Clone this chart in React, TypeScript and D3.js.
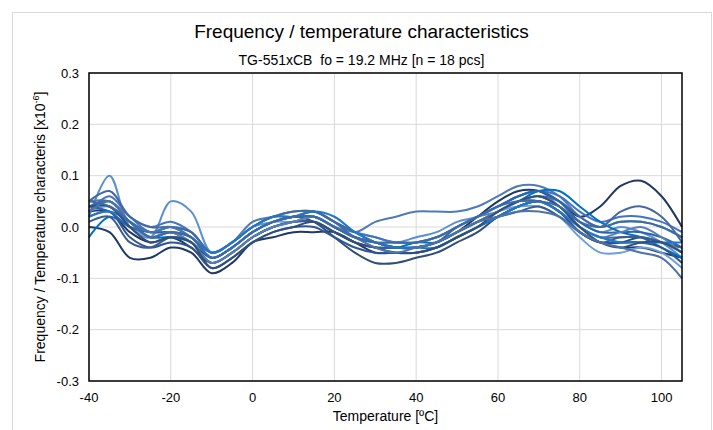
import * as d3 from 'd3';

const temps = d3.range(-40, 106, 5);
const yTicks = [-0.3, -0.2, -0.1, 0.0, 0.1, 0.2, 0.3];
const xTicks = [-40, -20, 0, 20, 40, 60, 80, 100];
const colors = ['#5b8fd0', '#1f3864', '#1f3864', '#2f4f7a', '#4f7bb5', '#4472c4', '#0070c0', '#3c6ea5', '#2e5597',
  '#6d9edb', '#44699e', '#3b5c8c', '#2c64b0', '#5a7fb0', '#1f77c7', '#34507a', '#4c72a8', '#3a6aa8'];

const series: number[][] = [
  [0.02,0.10,0.00,-0.02,0.05,0.03,-0.05,-0.03,0.00,0.01,0.02,0.02,0.00,-0.01,-0.02,-0.03,-0.02,-0.01,0.01,0.02,0.04,0.06,0.07,0.04,0.01,-0.01,0.00,-0.01,-0.03,-0.06],
  [0.03,0.03,-0.01,-0.03,-0.02,-0.04,-0.07,-0.05,-0.02,0.00,0.01,0.01,-0.01,-0.03,-0.04,-0.04,-0.04,-0.03,-0.01,0.02,0.05,0.07,0.07,0.05,0.02,0.04,0.08,0.09,0.06,0.00],
  [0.00,-0.01,-0.06,-0.06,-0.04,-0.05,-0.09,-0.07,-0.03,-0.02,-0.01,-0.01,-0.01,-0.03,-0.05,-0.05,-0.05,-0.04,-0.02,0.00,0.02,0.04,0.05,0.03,-0.01,-0.03,-0.04,-0.04,-0.05,-0.06],
  [0.04,0.04,0.01,-0.02,-0.01,-0.03,-0.06,-0.04,-0.01,0.01,0.02,0.01,-0.02,-0.05,-0.07,-0.07,-0.06,-0.05,-0.03,-0.01,0.02,0.04,0.05,0.03,-0.01,-0.03,-0.03,-0.02,-0.03,-0.04],
  [0.05,0.05,0.02,-0.01,0.00,-0.01,-0.05,-0.03,0.01,0.02,0.03,0.03,0.01,-0.01,0.01,0.02,0.03,0.03,0.03,0.04,0.06,0.08,0.08,0.06,0.02,0.00,0.01,0.01,0.00,-0.02],
  [0.03,0.06,0.02,0.00,0.01,-0.01,-0.05,-0.03,0.00,0.02,0.02,0.03,0.01,-0.01,-0.02,-0.03,-0.03,-0.02,0.00,0.02,0.04,0.06,0.07,0.06,0.03,0.01,0.02,0.02,0.01,-0.01],
  [-0.02,0.02,0.00,-0.02,-0.02,-0.03,-0.07,-0.05,-0.02,0.00,0.01,0.02,0.00,-0.02,-0.03,-0.04,-0.03,-0.03,-0.01,0.01,0.03,0.05,0.07,0.07,0.04,0.01,-0.01,-0.02,-0.04,-0.06],
  [0.04,0.05,0.01,-0.01,-0.01,-0.02,-0.06,-0.04,-0.01,0.01,0.02,0.03,0.01,-0.02,-0.03,-0.04,-0.04,-0.03,-0.01,0.01,0.03,0.05,0.06,0.04,0.00,-0.02,-0.02,-0.02,-0.03,-0.05],
  [0.02,0.03,-0.02,-0.04,-0.03,-0.04,-0.08,-0.06,-0.03,-0.01,0.00,0.00,-0.02,-0.04,-0.05,-0.05,-0.05,-0.04,-0.02,0.00,0.02,0.04,0.05,0.03,-0.01,-0.03,-0.03,-0.03,-0.04,-0.07],
  [0.03,0.04,0.00,-0.02,-0.01,-0.02,-0.06,-0.04,-0.01,0.01,0.01,0.02,0.00,-0.02,-0.03,-0.04,-0.04,-0.03,-0.01,0.01,0.03,0.04,0.04,0.02,-0.02,-0.05,-0.05,-0.04,-0.05,-0.08],
  [0.05,0.07,0.02,0.00,0.00,-0.01,-0.05,-0.03,0.00,0.02,0.03,0.03,0.01,-0.01,-0.03,-0.04,-0.04,-0.03,-0.01,0.01,0.03,0.05,0.06,0.05,0.02,0.00,0.03,0.04,0.02,-0.03],
  [0.01,0.02,-0.03,-0.04,-0.02,-0.03,-0.07,-0.05,-0.02,0.00,0.01,0.01,-0.01,-0.03,-0.04,-0.04,-0.04,-0.03,-0.01,0.01,0.02,0.03,0.04,0.02,-0.01,-0.03,-0.02,-0.02,-0.03,-0.04],
  [0.04,0.03,0.00,-0.01,-0.01,-0.02,-0.06,-0.04,-0.01,0.01,0.02,0.02,0.00,-0.02,-0.03,-0.04,-0.04,-0.03,0.00,0.02,0.04,0.06,0.07,0.05,0.01,-0.01,-0.01,-0.01,-0.02,-0.04],
  [0.03,0.05,0.01,-0.02,-0.01,-0.03,-0.07,-0.05,-0.02,0.00,0.01,0.02,0.00,-0.02,-0.03,-0.03,-0.03,-0.02,0.00,0.02,0.03,0.05,0.05,0.03,0.00,-0.02,-0.01,0.00,-0.02,-0.05],
  [0.02,0.03,0.01,-0.01,0.00,-0.02,-0.05,-0.03,0.00,0.02,0.02,0.03,0.02,-0.01,-0.03,-0.04,-0.04,-0.04,-0.02,0.00,0.02,0.04,0.05,0.03,0.00,-0.02,-0.03,-0.03,-0.03,-0.03],
  [0.04,0.04,0.00,-0.03,-0.02,-0.03,-0.08,-0.06,-0.03,-0.01,0.00,0.01,-0.01,-0.03,-0.04,-0.05,-0.05,-0.04,-0.02,0.00,0.03,0.05,0.06,0.04,0.00,-0.03,-0.04,-0.03,-0.03,-0.05],
  [0.03,0.05,0.01,-0.01,0.00,-0.02,-0.06,-0.04,-0.01,0.01,0.02,0.02,0.00,-0.02,-0.04,-0.05,-0.04,-0.03,-0.01,0.01,0.02,0.03,0.03,0.02,-0.01,-0.03,-0.04,-0.05,-0.06,-0.10],
  [0.05,0.04,0.01,-0.02,-0.01,-0.02,-0.06,-0.04,-0.01,0.01,0.02,0.02,0.00,-0.02,-0.03,-0.03,-0.03,-0.02,0.00,0.02,0.04,0.05,0.05,0.04,0.01,0.00,0.01,0.01,0.00,-0.02],
];

const W = 713;
const H = 430;
const left = 89, right = 682, top = 73, bottom = 381;
const font = 'Liberation Sans, Arial, sans-serif';

export default function App() {
  const x = d3.scaleLinear().domain([-40, 105]).range([left, right]);
  const y = d3.scaleLinear().domain([-0.3, 0.3]).range([bottom, top]);
  const line = d3.line<number>()
    .x((_, i) => x(temps[i]))
    .y((d) => y(d))
    .curve(d3.curveCatmullRom.alpha(0.5));

  return (
    <div style={{ position: 'fixed', left: 0, top: 0 }}>
      <svg width={W} height={H} style={{ display: 'block', fontFamily: font }}>
        <rect x={0} y={0} width={W} height={H} fill="#fff" />
        <rect x={12.5} y={12.5} width={W - 14} height={H} fill="none" stroke="#d9d9d9" />
        <text x={W / 2 + 5} y={38} textAnchor="middle" fontSize={19} fill="#000">
          Frequency / temperature characteristics
        </text>
        <text x={W / 2 + 5} y={65} textAnchor="middle" fontSize={14} fill="#000" style={{ whiteSpace: 'pre' }}>
          {'TG-551xCB  fo = 19.2 MHz [n = 18 pcs]'}
        </text>
        {yTicks.map((t) => (
          <g key={t}>
            <line x1={left} x2={right} y1={y(t)} y2={y(t)} stroke="#d9d9d9" />
            <text x={79} y={y(t) + 4.5} textAnchor="end" fontSize={13} fill="#000">{t.toFixed(1)}</text>
          </g>
        ))}
        {xTicks.map((t) => (
          <g key={t}>
            <line x1={x(t)} x2={x(t)} y1={top} y2={bottom} stroke="#d9d9d9" />
            <text x={x(t)} y={402} textAnchor="middle" fontSize={13} fill="#000">{t}</text>
          </g>
        ))}
        {series.map((s, i) => (
          <path key={i} d={line(s) || ''} fill="none" stroke={colors[i]} strokeWidth={2} />
        ))}
        <rect x={left} y={top} width={right - left} height={bottom - top} fill="none" stroke="#000" strokeWidth={1.5} />
        <text x={(left + right) / 2} y={421} textAnchor="middle" fontSize={14} fill="#000">
          Temperature [ºC]
        </text>
        <text transform={`translate(45,${(top + bottom) / 2}) rotate(-90)`} textAnchor="middle" fontSize={14} fill="#000">
          Frequency / Temperature characteris [x10<tspan dy={-6} fontSize={9}>-6</tspan><tspan dy={6}>]</tspan>
        </text>
      </svg>
    </div>
  );
}
